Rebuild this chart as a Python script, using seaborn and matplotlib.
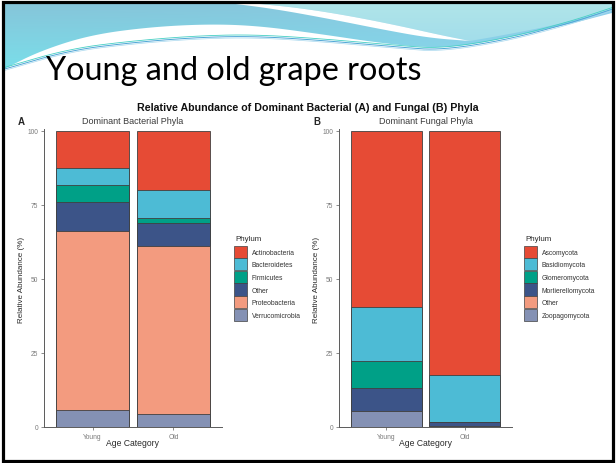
import numpy as np
import pandas as pd
import matplotlib
matplotlib.use("Agg")
import matplotlib.pyplot as plt
import seaborn as sns
from matplotlib.patches import Patch, Polygon, Rectangle

# ---- data -------------------------------------------------------------
ages = ["Young", "Old"]

bacterial_phyla = ["Actinobacteria", "Bacteroidetes", "Firmicutes",
                   "Other", "Proteobacteria", "Verrucomicrobia"]
bacterial_young = [12.5, 5.6, 6.0, 9.8, 60.5, 5.6]
bacterial_old = [19.8, 9.7, 1.6, 7.9, 56.6, 4.4]

fungal_phyla = ["Ascomycota", "Basidiomycota", "Glomeromycota",
                "Mortierellomycota", "Other", "Zoopagomycota"]
fungal_young = [59.4, 18.2, 9.2, 7.7, 0.0, 5.5]
fungal_old = [82.5, 15.7, 0.0, 1.3, 0.0, 0.5]

yticks = [0, 25, 50, 75, 100]
npg = ["#E64B35", "#4DBBD5", "#00A087", "#3C5488", "#F39B7F", "#8491B4"]

# ---- figure -----------------------------------------------------------
sns.set_theme(style="white")
plt.rcParams["font.family"] = ["Liberation Sans", "DejaVu Sans"]

W, H = 616, 464
fig = plt.figure(figsize=(W / 100, H / 100), dpi=100)

# full-figure canvas in pixel units (y grows downward) for slide decoration
bg = fig.add_axes([0, 0, 1, 1], zorder=-5)
bg.set_xlim(0, W)
bg.set_ylim(H, 0)
bg.axis("off")


def smooth(pts, n=4):
    """Chaikin corner cutting for a soft curve through control points."""
    p = np.asarray(pts, float)
    for _ in range(n):
        q = 0.75 * p[:-1] + 0.25 * p[1:]
        r = 0.25 * p[:-1] + 0.75 * p[1:]
        new = np.empty((2 * len(q), 2))
        new[0::2] = q
        new[1::2] = r
        p = np.vstack([p[0], new, p[-1]])
    return p


def hex2rgb(h):
    h = h.lstrip("#")
    return [int(h[i:i + 2], 16) / 255 for i in (0, 2, 4)]


def gradient_fill(poly_pts, c_top, c_bot, y0, y1, c_right=None):
    poly = Polygon(poly_pts, closed=True, transform=bg.transData,
                   facecolor="none", edgecolor="none")
    bg.add_patch(poly)
    ny, nx = 60, 120
    t = np.linspace(0, 1, ny)[:, None, None]
    img = (1 - t) * np.array(c_top)[None, None, :] + t * np.array(c_bot)[None, None, :]
    img = np.repeat(img, nx, axis=1)
    if c_right is not None:
        s = np.linspace(0, 1, nx)[None, :, None] ** 2
        img = (1 - s) * img + s * np.array(c_right)[None, None, :]
    im = bg.imshow(img, extent=(0, W, y1, y0), aspect="auto",
                   interpolation="bilinear", zorder=1)
    im.set_clip_path(poly)


# main wave band
band_lower = smooth([(4, 70), (40, 52), (90, 36), (150, 28), (210, 25), (260, 27),
                     (320, 35), (380, 44), (430, 49), (470, 46), (520, 36),
                     (570, 25), (612, 14)])
band = np.vstack([[(4, 4), (612, 4)], band_lower[::-1]])
gradient_fill(band, hex2rgb("#86C5DA"), hex2rgb("#7ADFEA"), 4, 72,
              c_right=hex2rgb("#8FD0EC"))

# lighter upper-right sweep
swoosh_hi = smooth([(250, 4), (300, 9), (350, 17), (400, 27), (440, 36), (470, 42)])
light_low = smooth([(470, 42), (510, 35), (560, 25), (612, 11)])
light = np.vstack([swoosh_hi, light_low[1:], [(612, 4)]])
gradient_fill(light, hex2rgb("#B0E5E9"), hex2rgb("#A2DDEB"), 4, 45)

# white streak
swoosh_lo = smooth([(228, 4), (275, 10), (330, 20), (385, 31), (430, 39), (470, 42)])
bg.add_patch(Polygon(np.vstack([swoosh_hi, swoosh_lo[::-1]]), closed=True,
                     facecolor="white", edgecolor="none", zorder=2))

# thin strands under the wave
strand = smooth([(4, 69), (70, 50), (135, 42), (200, 37), (255, 36), (320, 40),
                 (400, 47), (440, 50), (505, 40), (570, 23), (612, 9)])
bg.plot(strand[:, 0], strand[:, 1] + 1.2, color="#4FA6D6", lw=0.7, zorder=3)
bg.plot(strand[:, 0], strand[:, 1] - 0.4, color="#46CFC4", lw=0.6, zorder=3)
bg.plot(strand[:, 0], strand[:, 1] + 2.6, color="#A9D8EE", lw=0.5, zorder=3)

# slide frame
bg.add_patch(Rectangle((2.5, 2.5), 610.5, 459, fill=False,
                       edgecolor="black", lw=2.3, zorder=10))

# slide heading
bg.text(46, 80, "Young and old grape roots", fontsize=23.3,
        family=["Lato", "DejaVu Sans"], color="black", va="baseline",
        ha="left", zorder=5)

# chart headings
bg.text(308, 108, "Relative Abundance of Dominant Bacterial (A) and Fungal (B) Phyla",
        fontsize=7.7, weight="bold", ha="center", va="center", color="#111111")
bg.text(18, 122, "A", fontsize=7, weight="bold", ha="left", va="center")
bg.text(313, 122, "B", fontsize=7, weight="bold", ha="left", va="center")


def stacked_panel(rect, phyla, young, old, subtitle, legend_xy):
    ax = fig.add_axes(rect)
    df = pd.DataFrame({
        "Phylum": phyla * 2,
        "Age": ["Young"] * len(phyla) + ["Old"] * len(phyla),
        "Abundance": young + old,
    })
    # each layer is drawn at its cumulative height, topmost phylum first
    for i, col in enumerate(npg):
        layer = (df[df["Phylum"].isin(phyla[i:])]
                 .groupby("Age", sort=False)["Abundance"].sum()
                 .reindex(ages).reset_index())
        sns.barplot(data=layer, x="Age", y="Abundance", order=ages,
                    color=col, saturation=1, width=0.9, errorbar=None,
                    edgecolor="#404040", linewidth=0.6, ax=ax)
    ax.set_xlim(-0.6, 1.6)
    ax.set_ylim(0, 100.6)
    ax.set_yticks(yticks)
    ax.set_xlabel("")
    ax.set_ylabel("")
    for s in ("top", "right"):
        ax.spines[s].set_visible(False)
    for s in ("left", "bottom"):
        ax.spines[s].set_color("#5a5a5a")
        ax.spines[s].set_linewidth(0.7)
    ax.tick_params(axis="both", length=2, width=0.5, color="#5a5a5a",
                   labelsize=4.8, labelcolor="#7a7a7a", pad=2, left=True, bottom=True)
    ax.patch.set_alpha(0)

    x0 = rect[0] * W
    x1 = (rect[0] + rect[2]) * W
    xc = (x0 + x1) / 2
    bg.text(xc, 122, subtitle, fontsize=6.5, color="#3a3a3a",
            ha="center", va="center")
    bg.text(x0 - 22, 280, "Relative Abundance (%)", fontsize=5.8, rotation=90,
            ha="center", va="center", color="#2a2a2a")
    bg.text(xc, 444, "Age Category", fontsize=6.2, ha="center", va="center",
            color="#2a2a2a")

    lx, ly = legend_xy
    bg.text(lx + 1, ly, "Phylum", fontsize=5.7, color="#2a2a2a",
            ha="left", va="center")
    handles = [Patch(facecolor=c, edgecolor="#404040", linewidth=0.5) for c in npg]
    leg = ax.legend(handles, phyla, loc="upper left",
                    bbox_to_anchor=(lx, ly + 6.5), bbox_transform=bg.transData,
                    frameon=False, fontsize=4.9,
                    handlelength=1.95, handleheight=2.4, handletextpad=0.65,
                    labelspacing=0.05, borderpad=0, borderaxespad=0)
    for t in leg.get_texts():
        t.set_color("#333333")
    return ax


panel_h = 296 * 1.006 / H
stacked_panel([44 / W, 36 / H, 178 / W, panel_h], bacterial_phyla,
              bacterial_young, bacterial_old, "Dominant Bacterial Phyla", (234, 240))
stacked_panel([339 / W, 36 / H, 173 / W, panel_h], fungal_phyla,
              fungal_young, fungal_old, "Dominant Fungal Phyla", (524, 240))

fig.savefig("out.png", dpi=100)
